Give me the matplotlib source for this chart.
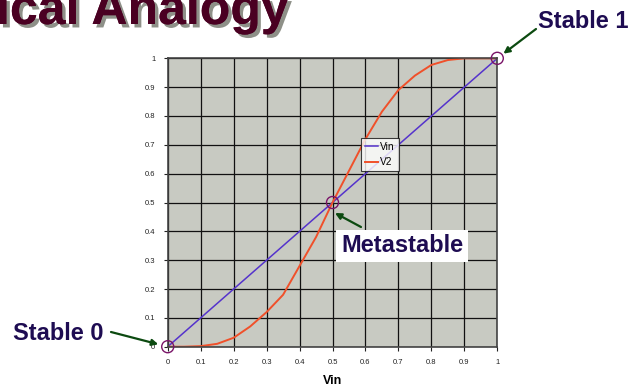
import numpy as np
import matplotlib
matplotlib.use("Agg")
import matplotlib.pyplot as plt
import matplotlib.patheffects as pe

plt.rcParams["font.family"] = ["Liberation Sans", "DejaVu Sans"]

# transfer curves: input voltage and the second inverter output
vin = [0.0, 0.05, 0.1, 0.15, 0.2, 0.25, 0.3, 0.35, 0.4, 0.45, 0.5,
       0.55, 0.6, 0.65, 0.7, 0.75, 0.8, 0.85, 0.9, 0.95, 1.0]
v2 = [0.0, 0.0, 0.002, 0.01, 0.031, 0.07, 0.12, 0.18, 0.28, 0.38, 0.5,
      0.61, 0.72, 0.815, 0.89, 0.94, 0.977, 0.994, 1.0, 1.0, 1.0]
stable_pts = [(0.0, 0.0), (0.5, 0.5), (1.0, 1.0)]
ticks = [0, 0.1, 0.2, 0.3, 0.4, 0.5, 0.6, 0.7, 0.8, 0.9, 1]
tick_labels = ["0", "0.1", "0.2", "0.3", "0.4", "0.5", "0.6", "0.7", "0.8", "0.9", "1"]

fig = plt.figure(figsize=(6.31, 3.90), dpi=100)
ax = fig.add_axes([0.2658, 0.111, 0.5223, 0.7395])
ax.set_facecolor("#c8cac2")

ax.plot(vin, vin, color="#5533cc", lw=1.1, label="Vin")
ax.plot(vin, v2, color="#f0502a", lw=1.4, label="V2")

ax.scatter([p[0] for p in stable_pts], [p[1] for p in stable_pts], s=75,
           facecolors="none", edgecolors="#7a1468", linewidths=1.0, zorder=5,
           clip_on=False)

ax.set_xlim(0, 1)
ax.set_ylim(0, 1)
ax.set_xticks(ticks)
ax.set_yticks(ticks)
ax.set_xticklabels(tick_labels)
ax.set_yticklabels(tick_labels)
ax.tick_params(labelsize=5.5, length=3, width=0.8, colors="#222222", pad=6)
ax.grid(True, color="#111111", lw=0.9)
ax.set_axisbelow(True)
for s in ax.spines.values():
    s.set_color("#444444")
    s.set_linewidth(1.2)

ax.set_xlabel("Vin", fontsize=9, fontweight="bold", labelpad=6)

leg = ax.legend(loc="upper left", bbox_to_anchor=(0.587, 0.722), fontsize=7.3,
                frameon=True, fancybox=False, handlelength=1.3,
                handletextpad=0.25, borderpad=0.35, labelspacing=0.5,
                borderaxespad=0)
leg.get_frame().set_edgecolor("#111111")
leg.get_frame().set_linewidth(0.8)

# heading, running off the top-left edge of the slide
fig.text(-4 / 631, 366 / 390, "ical Analogy", fontsize=36, fontweight="bold",
         color="#4a0022", va="baseline", ha="left",
         path_effects=[pe.withSimplePatchShadow(offset=(2.5, -2.5),
                                                shadow_rgbFace="#8e9088",
                                                alpha=1.0),
                       pe.Normal()])

label_style = dict(fontsize=17, fontweight="bold", color="#1e0c52")
arrow_props = dict(arrowstyle="-|>", color="#0c4a10", lw=1.6,
                   mutation_scale=9, shrinkA=0)

ax.annotate("Stable 1", xy=(583, 368), xycoords="figure pixels",
            ha="center", va="center", annotation_clip=False, **label_style)
ax.annotate("", xy=stable_pts[2], xycoords="data",
            xytext=(536, 361), textcoords="figure pixels",
            annotation_clip=False,
            arrowprops=dict(arrow_props, shrinkB=5.5))

ax.annotate("Stable 0", xy=(58, 56), xycoords="figure pixels",
            ha="center", va="center", annotation_clip=False, **label_style)
ax.annotate("", xy=stable_pts[0], xycoords="data",
            xytext=(111, 58), textcoords="figure pixels",
            annotation_clip=False,
            arrowprops=dict(arrow_props, shrinkB=7))

ax.annotate("Metastable", xy=(402, 144), xycoords="figure pixels",
            ha="center", va="center", annotation_clip=False,
            bbox=dict(boxstyle="square,pad=0.2", fc="white", ec="none"),
            **label_style)
ax.annotate("", xy=(335, 177), xycoords="figure pixels",
            xytext=(361, 163), textcoords="figure pixels",
            annotation_clip=False, arrowprops=dict(arrow_props, shrinkB=0))

fig.savefig("out.png", dpi=100)
